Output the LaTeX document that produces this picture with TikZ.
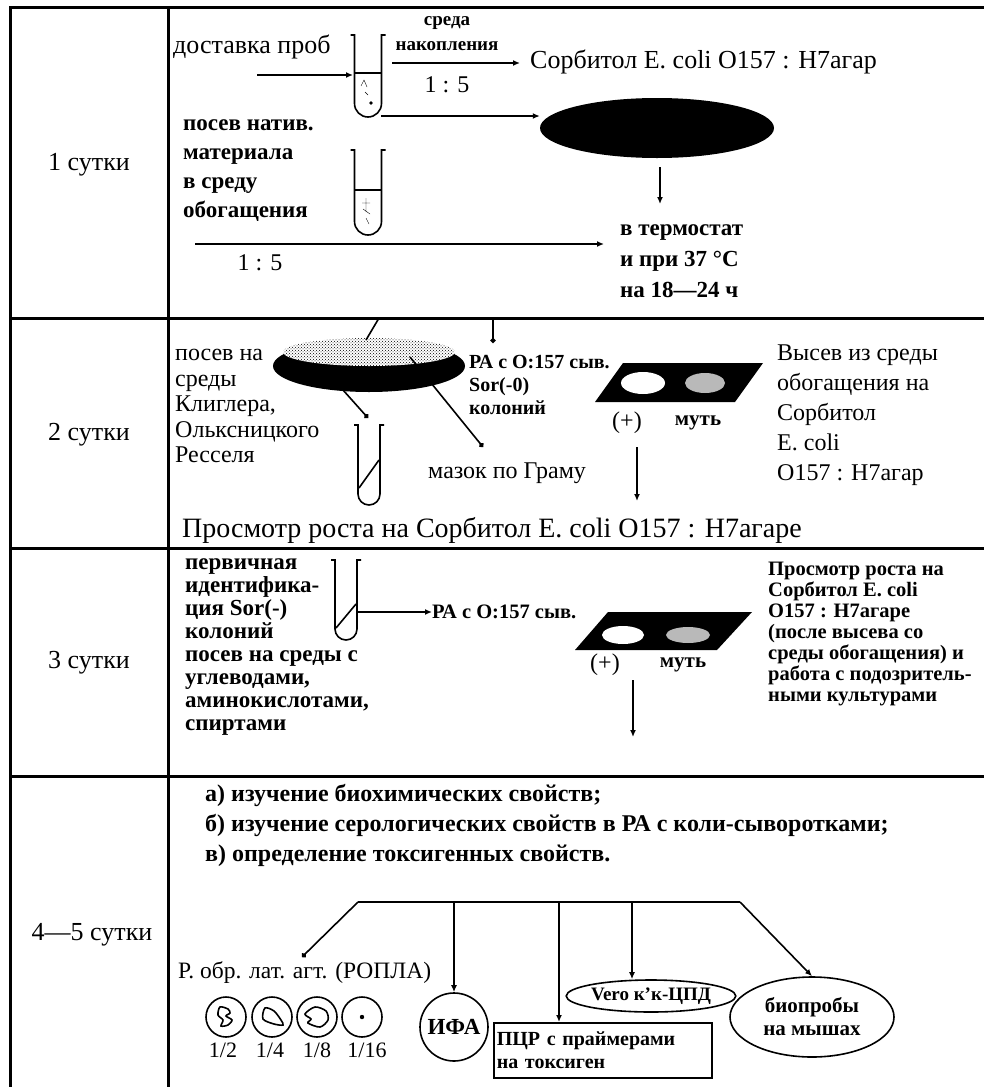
\documentclass[tikz,border=0pt]{standalone}
\usepackage{fontspec}
\setmainfont{Liberation Serif}
\usetikzlibrary{arrows.meta,positioning,shapes.geometric,patterns}
\newcommand\fsz[2]{\fontsize{#1}{#2}\selectfont}
\tikzset{
	>={Latex[length=7pt,width=6pt]},
	-o/.style={-{Circle[length=5pt]}},
	ln/.style={line width=1.6pt},
	grid/.style={line width=3pt},
	txt/.style={inner sep=0pt,align=left,anchor=west},
	day/.style={inner sep=0pt,font=\fsz{26}{30}},
	plain/.style={txt,font=\fsz{24}{26}},
	bld/.style={txt,font=\bfseries\fsz{21}{23}},
	plate/.style={ellipse,fill=black,inner sep=0pt},
	oval/.style={ellipse,draw,ln,inner sep=0pt,align=center},
	box/.style={draw,ln,rectangle,align=left},
	pics/tube/.style args={#1/#2}{code={
		\draw[ln] ({-#1/2-4},0) -- ({-#1/2},0) -- ({-#1/2},{#2-#1/2})
			arc[start angle=180,end angle=0,radius={#1/2}] -- ({#1/2},0) -- ({#1/2+4},0);
	}}
}

\begin{document}
\begin{tikzpicture}[x=1pt,y=-1pt]
	\useasboundingbox (0,0) rectangle (984,1087);
	\clip (0,0) rectangle (984,1087);
	% table
	\draw[grid] (990,7) -- (10,7) -- (10,1095);
	\draw[grid] (168,7) -- (168,1095);
	\foreach \y in {318,548,776} \draw[grid] (10,\y) -- (990,\y);
	\node[day] (d1) at (89,165) {1 сутки};
	\node[day] (d2) at (89,435) {2 сутки};
	\node[day] (d3) at (89,663) {3 сутки};
	\node[day] (d45) at (92,935) {4—5 сутки};

	% 1 сутки
	\node[plain,font=\fsz{26}{30}] (deliv) at (173,47) {доставка проб};
	\pic at (368,35) {tube=27/82};
	\draw[ln] (355,73) -- (382,73);
	\draw (361,86) -- (364,80) -- (367,87) (365,92) -- (368,95);
	\fill (371,103) circle[radius=1.8];
	\coordinate (t1in) at (353,75);
	\coordinate (t1out) at (392,63);
	\coordinate (t1low) at (381,116);
	\coordinate (dstart) at (257,75);
	\draw[->,ln] (dstart) -- (t1in);
	\node[bld,anchor=center,align=center,font=\bfseries\fsz{19}{25}] (accum) at (447,34) {среда\\накопления};
	\node[plain,anchor=center] (ratio1) at (447,85) {1 : 5};
	\node[plain,font=\fsz{26}{30}] (sorb) at (530,62) {Сорбитол E. coli O157 : H7агар};
	\draw[->,ln] (t1out) -- ([xshift=-10pt]sorb.west |- t1out);
	\node[plate,minimum width=234pt,minimum height=60pt] (dish) at (657,128) {};
	\draw[->,ln] (t1low) -- (t1low -| dish.west);
	\node[bld,font=\bfseries\fsz{23}{31}] (thermo) at (620,261) {в термостат\\и при 37 °C\\на 18—24 ч};
	\coordinate (th) at (660,204);
	\draw[->,ln] (660,167) -- (th);
	\pic at (368,150) {tube=27/85};
	\draw[ln] (355,190) -- (382,190);
	\draw (366,198) -- (366,212) (362,203) -- (370,203) (363,209) -- (370,214) (366,218) -- (369,224);
	\node[bld,font=\bfseries\fsz{23}{29}] (native) at (183,171) {посев натив.\\материала\\в среду\\обогащения};
	\coordinate (l1) at (195,244);
	\coordinate (l2) at (604,244);
	\draw[->,ln] (l1) -- (l2);
	\node[plain,anchor=center] (ratio2) at (260,263) {1 : 5};

	% 2 сутки
	\node[plate,minimum width=192pt,minimum height=52pt] (plate) at (369,366) {};
	\fill[white] (369,352) ellipse[x radius=86,y radius=14];
	\fill[pattern=crosshatch dots] (369,352) ellipse[x radius=86,y radius=14];
	\draw[ln] (366,340) -- (379,318);
	\coordinate (p1) at (410,357);
	\coordinate (p2) at (343,390);
	\coordinate (g1) at (483,447);
	\coordinate (k1) at (368,418);
	\draw[-o,ln] (p1) -- (g1);
	\draw[-o,ln] (p2) -- (k1);
	\draw[-o,ln] (493,318) -- (493,343);
	\node[plain,font=\fsz{24}{25.5}] (seed2) at (175,406) {посев на\\среды\\Клиглера,\\Ольксницкого\\Ресселя};
	\pic at (369,425) {tube=22/80};
	\draw[ln] (359,488) -- (379,460);
	\node[plain] (gram) at (428,473) {мазок по Граму};
	\node[bld,font=\bfseries\fsz{20}{23}] (ra2) at (469,385) {РА с O:157 сыв.\\Sor(-0)\\колоний};
	\fill (595,402) -- (735,402) -- (763,363) -- (623,363) -- cycle;
	\fill[white] (643,383) ellipse[x radius=22,y radius=11];
	\fill[gray!55] (705,383) ellipse[x radius=20,y radius=10];
	\node[plain,anchor=center] (pos2) at (627,423) {(+)};
	\node[bld,anchor=center] (mut2) at (698,423) {муть};
	\coordinate (v2) at (637,501);
	\draw[->,ln] (637,447) -- (v2);
	\node[plain,font=\fsz{24}{30}] (sow) at (777,415) {Высев из среды\\обогащения на\\Сорбитол\\E. coli\\O157 : H7агар};
	\node[plain,font=\fsz{28}{30}] (view2) at (182,530) {Просмотр роста на Сорбитол E. coli O157 : H7агаре};

	% 3 сутки
	\pic at (346,560) {tube=22/80};
	\draw[ln] (336,628) -- (356,604);
	\node[bld,font=\bfseries\fsz{23}{23}] (ident) at (185,647) {первичная\\идентифика-\\ция Sor(-)\\колоний\\посев на среды с\\углеводами,\\аминокислотами,\\спиртами};
	\node[bld,font=\bfseries\fsz{20.5}{23}] (ra3) at (432,612) {РА с O:157 сыв.};
	\coordinate (t4out) at (357,612);
	\draw[->,ln] (t4out) -- (ra3);
	\fill (575,650) -- (717,650) -- (752,612) -- (608,612) -- cycle;
	\fill[white] (623,635) ellipse[x radius=21,y radius=9];
	\fill[gray!55] (688,635) ellipse[x radius=22,y radius=8];
	\node[plain,anchor=center] (pos3) at (605,665) {(+)};
	\node[bld,anchor=center] (mut3) at (683,665) {муть};
	\coordinate (v3) at (633,737);
	\draw[->,ln] (633,680) -- (v3);
	\node[bld,font=\bfseries\fsz{20.5}{21}] (view3) at (768,634) {Просмотр роста на\\Сорбитол E. coli\\O157 : H7агаре\\(после высева со\\среды обогащения) и\\работа с подозритель-\\ными культурами};

	% 4-5 сутки
	\node[bld,font=\bfseries\fsz{24}{30}] (study) at (205,825) {а) изучение биохимических свойств;\\б) изучение серологических свойств в РА с коли-сыворотками;\\в) определение токсигенных свойств.};
	\coordinate (bl) at (358,902);
	\coordinate (br) at (740,902);
	\draw[ln] (bl) -- (br);
	\node[plain,font=\fsz{23.5}{26}] (ropla) at (178,973) {Р. обр. лат. агт. (РОПЛА)};
	\coordinate (rp) at (302,957);
	\draw[-o,ln] (bl) -- (rp);
	\node[draw,ln,circle,minimum size=68pt,inner sep=0pt,font=\bfseries\fsz{23}{26}] (ifa) at (454,1027) {ИФА};
	\node[box,anchor=north west,text width=212pt,minimum height=55pt,inner sep=3pt,font=\bfseries\fsz{20}{23}] (pcr) at (493,1022) {ПЦР с праймерами\\на токсиген};
	\node[oval,minimum width=154pt,minimum height=32pt,font=\bfseries\fsz{19}{22}] (vero) at (651,996) {Vero к'к-ЦПД};
	\node[oval,minimum width=164pt,minimum height=80pt,font=\bfseries\fsz{21}{23}] (bio) at (812,1017) {биопробы\\на мышах};
	\coordinate (pd) at (559,902);
	\coordinate (vd) at (632,902);
	\draw[->,ln] (bl -| ifa) -- (ifa);
	\draw[->,ln] (pd) -- (pd |- pcr.north);
	\draw[->,ln] (vd) -- (vd |- vero.north);
	\draw[->,ln] (br) -- (bio.north);
	\foreach \x/\d/\lx in {226/2/223,272/4/270,317/8/317,362/16/367}{
		\node[draw,ln,circle,minimum size=40pt,inner sep=0pt] (c\d) at (\x,1017) {};
		\node[plain,anchor=center,font=\fsz{22}{24}] (f\d) at (\lx,1050) {1/\d};
	}
	\draw[ln,shift={(c2.center)}] plot[smooth cycle] coordinates {(-6,-10) (2,-8) (4,-4) (0,-1) (6,3) (2,8) (-5,9) (-3,3) (-8,-2)};
	\draw[ln,shift={(c4.center)}] plot[smooth cycle] coordinates {(-7,-9) (2,-6) (9,3) (11,8) (2,7) (-9,2)};
	\draw[ln,shift={(c8.center)}] plot[smooth cycle] coordinates {(-12,-3) (-2,-10) (9,-6) (11,3) (3,10) (-9,6) (-6,2)};
	\fill (c16) circle[radius=2.2];
\end{tikzpicture}
\end{document}
